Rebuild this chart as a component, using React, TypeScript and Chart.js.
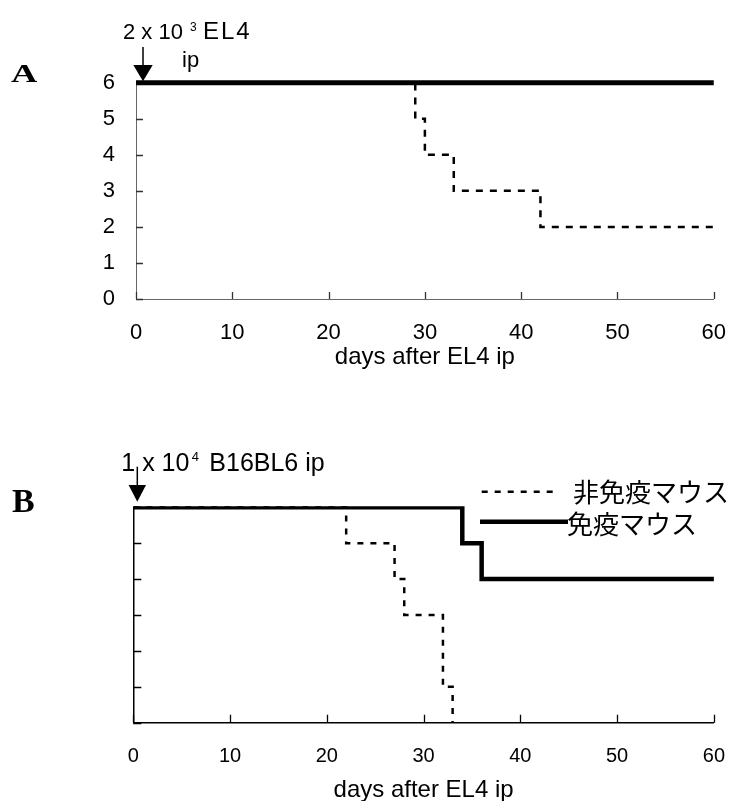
import React, { useEffect, useRef } from "react";
import { Chart, registerables } from "chart.js";

Chart.register(...registerables);

// ---- data ----
const DAY_TICKS = [0, 10, 20, 30, 40, 50, 60];
const COUNT_TICKS = [0, 1, 2, 3, 4, 5, 6];

const SERIES_LABELS = ["非免疫マウス", "免疫マウス"];
const X_TITLE = "days after EL4 ip";

// Panel A (EL4)
const A_IMMUNE_DAYS = [0, 60];
const A_IMMUNE_ALIVE = [6, 6];
const A_NAIVE_DAYS = [0, 29, 30, 33, 42, 60];
const A_NAIVE_ALIVE = [6, 5, 4, 3, 2, 2];

// Panel B (B16BL6)
const B_IMMUNE_DAYS = [0, 34, 36, 60];
const B_IMMUNE_ALIVE = [6, 5, 4, 4];
const B_NAIVE_DAYS = [0, 22, 27, 28, 32, 33];
const B_NAIVE_ALIVE = [6, 5, 4, 3, 1, 0];

const SANS = '"Liberation Sans", Arial, sans-serif';
const SERIF = '"Liberation Serif", "Times New Roman", serif';
const CJK = '"Noto Sans CJK JP", sans-serif';

const W = 747;

function pts(days: number[], alive: number[]) {
  return days.map((d, i) => ({ x: d, y: alive[i] }));
}

const inwardTicks = {
  id: "inwardTicks",
  beforeDatasetsDraw(chart: any, _args: any, opts: any) {
    const { ctx, chartArea, scales } = chart;
    const x = scales.x;
    const y = scales.y;
    ctx.save();
    ctx.strokeStyle = opts.color;
    ctx.lineWidth = opts.width;
    ctx.beginPath();
    for (const v of DAY_TICKS) {
      const px = Math.round(x.getPixelForValue(v)) + 0.5;
      ctx.moveTo(px, chartArea.bottom);
      ctx.lineTo(px, chartArea.bottom - opts.len);
    }
    for (const v of COUNT_TICKS) {
      const py = Math.round(y.getPixelForValue(v)) + 0.5;
      ctx.moveTo(chartArea.left, py);
      ctx.lineTo(chartArea.left + opts.len, py);
    }
    ctx.stroke();
    ctx.restore();
  },
};

function drawArrow(ctx: any, x: number, y0: number, yHead: number, yTip: number, halfW: number) {
  ctx.save();
  ctx.strokeStyle = "#000";
  ctx.fillStyle = "#000";
  ctx.lineWidth = 1.5;
  ctx.beginPath();
  ctx.moveTo(x, y0);
  ctx.lineTo(x, yHead + 1);
  ctx.stroke();
  ctx.beginPath();
  ctx.moveTo(x - halfW, yHead);
  ctx.lineTo(x + halfW, yHead);
  ctx.lineTo(x, yTip);
  ctx.closePath();
  ctx.fill();
  ctx.restore();
}

const annotationsA = {
  id: "annotationsA",
  afterDraw(chart: any) {
    const { ctx, chartArea } = chart;
    const L = chartArea.left;
    ctx.save();
    ctx.fillStyle = "#000";
    ctx.textBaseline = "alphabetic";
    ctx.textAlign = "left";
    // panel letter
    ctx.save();
    ctx.font = `bold 26px ${SERIF}`;
    ctx.translate(11, 82);
    ctx.scale(1.4, 1);
    ctx.fillText("A", 0, 0);
    ctx.restore();
    // label
    ctx.font = `22px ${SANS}`;
    ctx.fillText("2 x 10", L - 13, 39);
    ctx.font = `12px ${SANS}`;
    ctx.fillText("3", L + 54, 31);
    ctx.font = `24px ${SANS}`;
    (ctx as any).letterSpacing = "2px";
    ctx.fillText("EL4", L + 67, 39);
    (ctx as any).letterSpacing = "0px";
    ctx.font = `22px ${SANS}`;
    ctx.fillText("ip", L + 46, 67);
    ctx.restore();
    drawArrow(ctx, L + 7, 47, 65, chartArea.top - 1.5, 9.7);
  },
};

const annotationsB = {
  id: "annotationsB",
  afterDraw(chart: any) {
    const { ctx, chartArea } = chart;
    const L = chartArea.left;
    ctx.save();
    ctx.fillStyle = "#000";
    ctx.textBaseline = "alphabetic";
    ctx.textAlign = "left";
    ctx.font = `bold 34px ${SERIF}`;
    ctx.fillText("B", 12, 112);
    ctx.font = `25px ${SANS}`;
    ctx.fillText("1 x 10", L - 12, 70.7);
    ctx.font = `13px ${SANS}`;
    ctx.fillText("4", L + 58.5, 61);
    ctx.font = `25px ${SANS}`;
    ctx.fillText("B16BL6 ip", L + 76, 70.7);
    ctx.restore();
    drawArrow(ctx, L + 4, 66.7, 85, chartArea.top - 5.6, 8.7);

    // legend, drawn from dataset styles
    const ds = chart.data.datasets;
    const rows = [
      { d: ds[1], y: 91.7, x0: 481.7, x1: 558, tx: 573, ty: 92 },
      { d: ds[0], y: 121.7, x0: 480, x1: 568, tx: 567, ty: 124 },
    ];
    ctx.save();
    for (const r of rows) {
      ctx.strokeStyle = r.d.borderColor;
      ctx.lineWidth = r.d.borderWidth;
      ctx.setLineDash(r.d.borderDash || []);
      ctx.beginPath();
      ctx.moveTo(r.x0, r.y);
      ctx.lineTo(r.x1, r.y);
      ctx.stroke();
      ctx.setLineDash([]);
      ctx.fillStyle = "#000";
      ctx.font = `26px ${CJK}`;
      ctx.textBaseline = "middle";
      ctx.textAlign = "left";
      ctx.fillText(r.d.label, r.tx, r.ty);
    }
    ctx.restore();
  },
};

type PanelSpec = {
  height: number;
  area: { left: number; top: number; right: number; bottom: number };
  datasets: any[];
  showY: boolean;
  axisColor: string;
  axisWidth: number;
  tickLen: number;
  tickColor: string;
  xTickFont: number;
  xTickPad: number;
  titlePad: number;
  plugin: any;
};

function buildConfig(p: PanelSpec): any {
  return {
    type: "line",
    data: { datasets: p.datasets },
    plugins: [inwardTicks, p.plugin],
    options: {
      responsive: false,
      animation: false,
      devicePixelRatio: 1,
      layout: {
        padding: { left: 0, top: p.area.top, right: W - p.area.right, bottom: 0 },
      },
      elements: { point: { radius: 0, hoverRadius: 0 } },
      plugins: {
        legend: { display: false },
        title: { display: false },
        tooltip: { enabled: false },
        inwardTicks: { len: p.tickLen, color: p.tickColor, width: 1.3 },
      },
      events: [],
      scales: {
        x: {
          type: "linear",
          min: 0,
          max: 60,
          afterFit: (s: any) => {
            s.height = p.height - p.area.bottom;
          },
          grid: { display: false, drawTicks: false },
          border: { display: true, color: p.axisColor, width: p.axisWidth },
          ticks: {
            stepSize: 10,
            color: "#000",
            font: { family: SANS, size: p.xTickFont },
            padding: p.xTickPad,
            maxRotation: 0,
            autoSkip: false,
          },
          title: {
            display: true,
            text: X_TITLE,
            color: "#000",
            font: { family: SANS, size: 24, lineHeight: 0.9 },
            padding: { top: 0, bottom: p.titlePad },
          },
        },
        y: {
          type: "linear",
          min: 0,
          max: 6,
          afterFit: (s: any) => {
            s.width = p.area.left;
          },
          grid: { display: false, drawTicks: false },
          border: { display: true, color: p.axisColor, width: p.axisWidth },
          ticks: {
            display: p.showY,
            stepSize: 1,
            color: "#000",
            font: { family: SANS, size: 22 },
            padding: 21,
            autoSkip: false,
          },
        },
      },
    },
  };
}

const specA: PanelSpec = {
  height: 400,
  area: { left: 136, top: 82.7, right: 733, bottom: 299 },
  datasets: [
    {
      label: SERIES_LABELS[1],
      data: pts(A_IMMUNE_DAYS, A_IMMUNE_ALIVE),
      borderColor: "#000",
      borderWidth: 5,
      stepped: true,
      clip: false,
      pointRadius: 0,
    },
    {
      label: SERIES_LABELS[0],
      data: pts(A_NAIVE_DAYS, A_NAIVE_ALIVE),
      borderColor: "#000",
      borderWidth: 2.5,
      borderDash: [7, 7],
      stepped: true,
      clip: false,
      pointRadius: 0,
    },
  ],
  showY: true,
  axisColor: "#666",
  axisWidth: 1,
  tickLen: 7,
  tickColor: "#333",
  xTickFont: 22,
  xTickPad: 21,
  titlePad: 32,
  plugin: annotationsA,
};

const specB: PanelSpec = {
  height: 401,
  area: { left: 133.3, top: 107.3, right: 720.3, bottom: 322.7 },
  datasets: [
    {
      label: SERIES_LABELS[1],
      data: pts(B_IMMUNE_DAYS, B_IMMUNE_ALIVE),
      borderColor: "#000",
      borderWidth: 4.5,
      stepped: true,
      clip: { left: 10, top: 1, right: 10, bottom: 10 },
      pointRadius: 0,
    },
    {
      label: SERIES_LABELS[0],
      data: pts(B_NAIVE_DAYS, B_NAIVE_ALIVE),
      borderColor: "#000",
      borderWidth: 2.5,
      borderDash: [6, 7],
      stepped: true,
      clip: { left: 10, top: 1, right: 10, bottom: 10 },
      pointRadius: 0,
    },
  ],
  showY: false,
  axisColor: "#000",
  axisWidth: 1.5,
  tickLen: 8,
  tickColor: "#000",
  xTickFont: 20,
  xTickPad: 22,
  titlePad: 0,
  plugin: annotationsB,
};

function Panel({ spec, top }: { spec: PanelSpec; top: number }) {
  const ref = useRef<HTMLCanvasElement | null>(null);
  useEffect(() => {
    if (!ref.current) return;
    const chart = new Chart(ref.current, buildConfig(spec));
    return () => chart.destroy();
  }, []);
  return (
    <canvas
      ref={ref}
      width={W}
      height={spec.height}
      style={{ position: "absolute", left: 0, top, width: W, height: spec.height }}
    />
  );
}

export default function App() {
  return (
    <div
      style={{
        position: "absolute",
        left: 0,
        top: 0,
        width: W,
        height: 801,
        overflow: "hidden",
        background: "#fff",
      }}
    >
      <Panel spec={specA} top={0} />
      <Panel spec={specB} top={400} />
    </div>
  );
}
